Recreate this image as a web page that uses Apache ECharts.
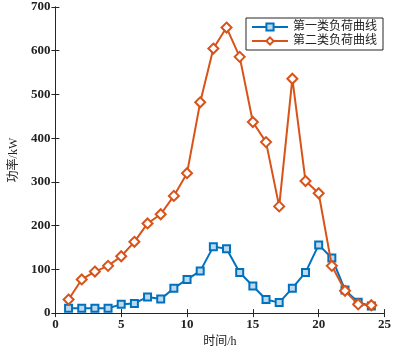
<!DOCTYPE html>
<html><head><meta charset="utf-8">
<script src="https://cdn.jsdelivr.net/npm/echarts@6/dist/echarts.min.js"></script>
<style>html,body{margin:0;padding:0;background:#fff}#c{width:394px;height:353px}</style>
</head><body><div id="c"></div>
<script>
const hours = [1,2,3,4,5,6,7,8,9,10,11,12,13,14,15,16,17,18,19,20,21,22,23,24];
const load1 = [11,11,11,11,20,22,37,32,57,77,96,152,147,93,62,31,24,57,93,156,126,53,25,16];
const load2 = [31,77,95,108,130,163,205,226,268,320,482,605,653,586,437,391,244,536,302,274,108,51,20,18];
const name1 = '第一类负荷曲线';
const name2 = '第二类负荷曲线';
const xTicks = [0,5,10,15,20,25];
const yTicks = [0,100,200,300,400,500,600,700];

const serif = '"Liberation Serif","DejaVu Serif",serif';
const cjk = '"Liberation Serif","Noto Sans CJK SC",serif';
const axisCol = '#262626';
const chart = echarts.init(document.getElementById('c'));
const pair = (xs, ys) => xs.map((x, i) => [x, ys[i]]);
chart.setOption({
  animation: false,
  grid: {left: 42, right: 7, top: 7, bottom: 29, show: false},
  legend: {
    top: 18, right: 11,
    orient: 'vertical',
    itemWidth: 36, itemHeight: 9, itemGap: 2,
    padding: [3, 6, 3, 5],
    borderColor: '#262626', borderWidth: 1,
    backgroundColor: '#fff',
    textStyle: {fontFamily: cjk, fontSize: 12, color: '#222'},
    data: [name1, name2]
  },
  xAxis: [{
    type: 'value', min: xTicks[0], max: xTicks[xTicks.length-1], interval: 5,
    name: '时间/h', nameLocation: 'middle', nameGap: 18,
    nameTextStyle: {fontFamily: cjk, fontSize: 12, color: '#222'},
    axisLine: {lineStyle: {color: axisCol}},
    axisTick: {inside: true, length: 4, lineStyle: {color: axisCol}},
    axisLabel: {fontFamily: serif, fontSize: 13, fontWeight: 'bold', color: '#222', margin: 5},
    splitLine: {show: false}
  }, {
    type: 'value', position: 'top', min: 0, max: 25, interval: 5,
    axisLine: {show: true, lineStyle: {color: axisCol}},
    axisTick: {inside: true, length: 4, lineStyle: {color: axisCol}},
    axisLabel: {show: false}, splitLine: {show: false}
  }],
  yAxis: [{
    type: 'value', min: yTicks[0], max: yTicks[yTicks.length-1], interval: 100,
    name: '功率/kW', nameLocation: 'middle', nameGap: 31,
    nameTextStyle: {fontFamily: cjk, fontSize: 12, color: '#222'},
    axisLine: {show: true, lineStyle: {color: axisCol}},
    axisTick: {show: true, inside: true, length: 4, lineStyle: {color: axisCol}},
    axisLabel: {fontFamily: serif, fontSize: 13, fontWeight: 'bold', color: '#222', margin: 5},
    splitLine: {show: false}
  }, {
    type: 'value', position: 'right', min: 0, max: 700, interval: 100,
    axisLine: {show: true, lineStyle: {color: axisCol}},
    axisTick: {show: true, inside: true, length: 4, lineStyle: {color: axisCol}},
    axisLabel: {show: false}, splitLine: {show: false}
  }],
  series: [{
    name: name1, type: 'line', data: pair(hours, load1),
    symbol: 'rect', symbolSize: 7, showAllSymbol: true,
    lineStyle: {color: '#0072BD', width: 2},
    itemStyle: {color: '#bcd9ef', borderColor: '#0072BD', borderWidth: 2},
    z: 3
  }, {
    name: name2, type: 'line', data: pair(hours, load2),
    symbol: 'diamond', symbolSize: 10, showAllSymbol: true,
    lineStyle: {color: '#D95319', width: 2},
    itemStyle: {color: '#fff', borderColor: '#D95319', borderWidth: 2},
    z: 4
  }]
});
</script></body></html>
